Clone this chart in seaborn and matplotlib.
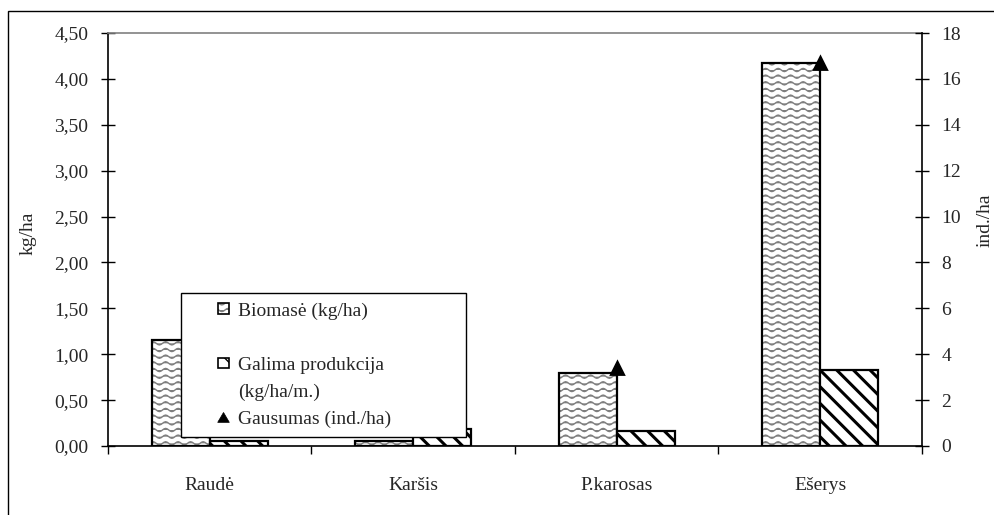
import warnings
import numpy as np
import pandas as pd
import seaborn as sns
import matplotlib
matplotlib.use('Agg')
import matplotlib.pyplot as plt
import matplotlib.hatch as mhatch
from matplotlib.path import Path
from matplotlib.patches import Patch, Rectangle, Polygon
from matplotlib.legend_handler import HandlerPatch
from matplotlib.colors import to_rgba
from matplotlib.ticker import FuncFormatter, FixedLocator

warnings.filterwarnings('ignore')

# data
zuvys = ["Raudė", "Karšis", "P.karosas", "Ešerys"]
biomase = [1.15, 0.05, 0.79, 4.17]          # kg/ha
produkcija = [0.05, 0.19, 0.16, 0.83]       # kg/ha/m.
gausumas = [4.6, 1.0, 3.4, 16.7]            # ind./ha
kaire_ticks = [0, 0.5, 1, 1.5, 2, 2.5, 3, 3.5, 4, 4.5]
desine_ticks = [0, 2, 4, 6, 8, 10, 12, 14, 16, 18]

FS = 14


# wavy hatch ('~'), matplotlib has none of its own
class WaveHatch(mhatch.HatchPatternBase):
    def __init__(self, hatch, density):
        self.num_lines = int(hatch.count('~') * density * 5 / 6)
        self.num_points = 65
        self.num_vertices = self.num_lines * self.num_points

    def set_vertices_and_codes(self, vertices, codes):
        xs = np.linspace(0, 1, self.num_points)
        ys = 0.016 * np.sin(xs * 2 * np.pi * 8)
        steps = np.linspace(0, 1, self.num_lines, endpoint=False) + 0.5 / max(self.num_lines, 1)
        vertices[:, 0] = np.tile(xs, self.num_lines)
        vertices[:, 1] = (steps[:, None] + ys[None, :]).ravel()
        codes[:] = Path.LINETO
        codes[::self.num_points] = Path.MOVETO


mhatch._hatch_types.append(WaveHatch)


def style_patch(p, hatch, hcolor, hlw):
    p.set_hatch(hatch)
    if hasattr(p, 'set_hatchcolor'):
        p.set_hatchcolor(hcolor)
    else:
        p._hatch_color = to_rgba(hcolor)
    if hasattr(p, 'set_hatch_linewidth'):
        p.set_hatch_linewidth(hlw)
    else:
        p._hatch_linewidth = hlw


# legend keys sit at the right end of their box, like the original
def square_key(legend, orig_handle, xdescent, ydescent, width, height, fontsize):
    s = 0.55 * fontsize
    return Rectangle((width - s - xdescent, (height - s) / 2 - ydescent), s, s)


def triangle_key(legend, orig_handle, xdescent, ydescent, width, height, fontsize):
    s = 0.6 * fontsize
    x0 = width - s - xdescent + 0.5
    y0 = (height - 0.85 * s) / 2 - ydescent
    return Polygon([[x0, y0], [x0 + s, y0], [x0 + s / 2, y0 + 0.85 * s]], closed=True)


sns.set_style('ticks')
plt.rcParams['font.family'] = ['Liberation Serif', 'DejaVu Serif']
plt.rcParams['font.size'] = FS

fig = plt.figure(figsize=(9.95, 5.15), dpi=100)
ax = fig.add_axes([108 / 995, 69 / 515, 814 / 995, 413 / 515])

df = pd.DataFrame({
    'zuvis': zuvys * 2,
    'reiksme': biomase + produkcija,
    'serija': ['Biomasė (kg/ha)'] * 4 + ['Galima produkcija (kg/ha/m.)'] * 4,
})
sns.barplot(data=df, x='zuvis', y='reiksme', hue='serija', palette=['white', 'white'],
            edgecolor='black', linewidth=1.6, width=0.57, errorbar=None,
            legend=False, saturation=1, ax=ax)

for p in ax.containers[0]:
    style_patch(p, '~~~', '#7f7f7f', 1.0)
for p in ax.containers[1]:
    style_patch(p, '\\\\', 'black', 2.2)

ax2 = ax.twinx()
sns.pointplot(x=zuvys, y=gausumas, ax=ax2, color='black', marker='^',
              linestyle='none', markersize=9, errorbar=None)

for a in (ax, ax2):
    a.set_xlim(-0.5, 3.5)
ax.set_ylim(0, 4.5)
ax2.set_ylim(0, 18)

ax.set_xticks(range(len(zuvys)))
ax.set_xticklabels(zuvys)
ax.xaxis.set_minor_locator(FixedLocator(np.arange(-0.5, 4, 1)))
ax.tick_params(axis='x', which='major', length=0, pad=22, labelsize=FS)
ax.tick_params(axis='x', which='minor', length=6, width=1, direction='out', color='black')
ax.set_xlabel('')

ax.set_yticks(kaire_ticks)
ax.yaxis.set_major_formatter(FuncFormatter(lambda v, pos: f"{v:.2f}".replace('.', ',')))
ax.tick_params(axis='y', direction='inout', length=10, width=1, pad=9, labelsize=FS, color='black')
ax2.set_yticks(desine_ticks)
ax2.tick_params(axis='y', direction='inout', length=10, width=1, pad=9, labelsize=FS, color='black')
ax2.tick_params(axis='x', which='both', length=0, labelbottom=False)

ax.set_ylabel('kg/ha', fontsize=FS)
ax.yaxis.set_label_coords(-0.088, 0.516)
ax2.set_ylabel('ind./ha', fontsize=FS, rotation=90)
ax2.yaxis.set_label_coords(1.067, 0.547)

for a in (ax, ax2):
    for s in ('left', 'right', 'bottom'):
        a.spines[s].set_color('black')
        a.spines[s].set_linewidth(1.2)
    a.spines['top'].set_visible(False)
ax.spines['right'].set_visible(False)
ax2.spines['left'].set_visible(False)
ax2.spines['bottom'].set_visible(False)
ax.spines['top'].set_visible(True)
ax.spines['top'].set_color('#808080')
ax.spines['top'].set_linewidth(1.2)

# legend, drawn on the twin axes so it covers the hidden triangles
h_bio = Patch(facecolor='white', edgecolor='black', linewidth=1.2)
style_patch(h_bio, '~~~', '#7f7f7f', 1.0)
h_prod = Patch(facecolor='white', edgecolor='black', linewidth=1.2)
style_patch(h_prod, '\\\\', 'black', 2.2)
h_none = Patch(facecolor='none', edgecolor='none')
h_gaus = Patch(facecolor='black', edgecolor='black', linewidth=0.5)
sq = HandlerPatch(patch_func=square_key)
leg = ax2.legend([h_bio, h_none, h_prod, h_none, h_gaus],
                 ['Biomasė (kg/ha)', ' ', 'Galima produkcija', '(kg/ha/m.)', 'Gausumas (ind./ha)'],
                 handler_map={h_bio: sq, h_prod: sq, h_none: sq,
                              h_gaus: HandlerPatch(patch_func=triangle_key)},
                 loc='upper left', bbox_to_anchor=(0.0897, 0.022, 0.35, 0.348), mode='expand',
                 fontsize=FS, frameon=True, fancybox=False, shadow=False, framealpha=1,
                 edgecolor='black', borderpad=0.45, labelspacing=0.49, handlelength=2.0,
                 handleheight=0.7, handletextpad=0.5, borderaxespad=0)
leg.get_frame().set_linewidth(1.0)

# outer border of the picture
fig.patches.append(Rectangle((8 / 995, -0.01), 1.0, 1 - 11 / 515 + 0.01, transform=fig.transFigure,
                             fill=False, edgecolor='black', linewidth=1.0))

fig.savefig('out.png', dpi=100)
